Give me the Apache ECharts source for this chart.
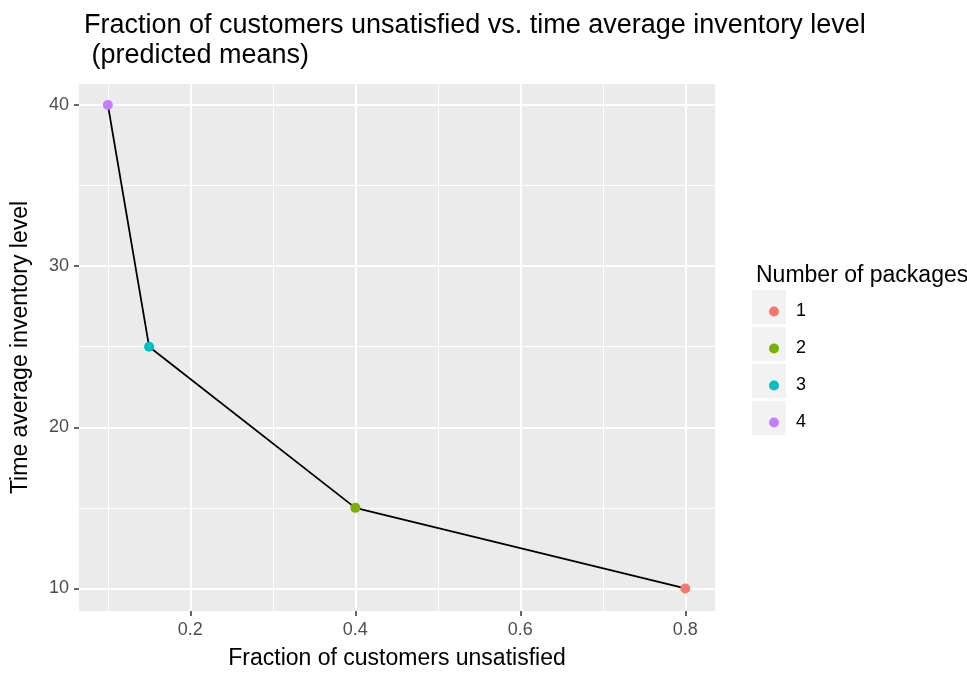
<!DOCTYPE html>
<html>
<head>
<meta charset="utf-8">
<script src="https://cdn.jsdelivr.net/npm/echarts@6/dist/echarts.min.js"></script>
<style>html,body{margin:0;padding:0;background:#fff}#c{width:967px;height:675px}</style>
</head>
<body>
<div id="c"></div>
<script>
const packages = ['1', '2', '3', '4'];
const fracUnsatisfied = [0.8, 0.4, 0.15, 0.1];
const avgInventory = [10, 15, 25, 40];
const xTicks = [0.2, 0.4, 0.6, 0.8];
const xMinor = [0.1, 0.3, 0.5, 0.7];
const yTicks = [10, 20, 30, 40];
const yMinor = [15, 25, 35];

const palette = ['#F8766D', '#7CAE00', '#00BFC4', '#C77CFF'];
const FONT = '"Liberation Sans", Arial, Helvetica, sans-serif';

const chart = echarts.init(document.getElementById('c'));

const points = packages.map((p, i) => [fracUnsatisfied[i], avgInventory[i]]);
const lineData = points.slice().sort((a, b) => a[0] - b[0]);

const xMajorLines = xTicks.map(v => ({ xAxis: v, lineStyle: { color: '#fff', width: 2, type: 'solid' } }));
const xMinorLines = xMinor.map(v => ({ xAxis: v, lineStyle: { color: '#fff', width: 1, type: 'solid' } }));
const yMajorLines = yTicks.map(v => ({ yAxis: v, lineStyle: { color: '#fff', width: 2, type: 'solid' } }));
const yMinorLines = yMinor.map(v => ({ yAxis: v, lineStyle: { color: '#fff', width: 1, type: 'solid' } }));

const series = [
  {
    name: 'grid', type: 'line', data: [], silent: true, z: 1,
    markLine: {
      z: 1, silent: true, symbol: ['none', 'none'], label: { show: false }, animation: false,
      data: [...xMinorLines, ...yMinorLines, ...xMajorLines, ...yMajorLines]
    }
  },
  {
    name: 'path', type: 'line', data: lineData, showSymbol: false, symbol: 'none',
    lineStyle: { color: '#000', width: 1.8 }, z: 3, silent: true
  }
];
packages.forEach((p, i) => {
  series.push({
    name: p, type: 'scatter', data: [points[i]], symbolSize: 10, z: 4,
    itemStyle: { color: palette[i], opacity: 1 }
  });
});

const legendRects = packages.map((p, i) => ({
  type: 'rect', left: 752, top: 290 + i * 37, z: -1,
  shape: { width: 34, height: 34 }, style: { fill: '#F2F2F2' }
}));

chart.setOption({
  animation: false,
  textStyle: { fontFamily: FONT },
  title: [
    {
      text: 'Fraction of customers unsatisfied vs. time average inventory level\n (predicted means)',
      left: 79, top: 6,
      textStyle: { fontFamily: FONT, fontSize: 27, fontWeight: 'normal', color: '#000', lineHeight: 30 }
    },
    {
      text: 'Number of packages', left: 751, top: 259,
      textStyle: { fontFamily: FONT, fontSize: 23, fontWeight: 'normal', color: '#000' }
    }
  ],
  legend: {
    data: packages, orient: 'vertical', left: 764, top: 288, icon: 'circle',
    itemWidth: 10, itemHeight: 10, itemGap: 0, selectedMode: false,
    textStyle: { fontFamily: FONT, fontSize: 18, color: '#000', lineHeight: 37, padding: [0, 0, 0, 12] }
  },
  graphic: legendRects,
  grid: {
    left: 79, right: 252, top: 84, bottom: 57, show: true,
    backgroundColor: '#EBEBEB', borderWidth: 0, containLabel: false
  },
  xAxis: {
    type: 'value', min: 0.065, max: 0.836,
    name: 'Fraction of customers unsatisfied', nameLocation: 'middle', nameGap: 36,
    nameTextStyle: { fontFamily: FONT, fontSize: 23, color: '#000' },
    axisLine: { show: false },
    axisTick: { show: true, customValues: xTicks, length: 5, lineStyle: { color: '#333', width: 1.5 } },
    axisLabel: { customValues: xTicks, fontFamily: FONT, fontSize: 18, color: '#4D4D4D', margin: 10,
      formatter: v => v.toFixed(1) },
    splitLine: { show: false }
  },
  yAxis: {
    type: 'value', min: 8.6, max: 41.3,
    name: 'Time average inventory level', nameLocation: 'middle', nameGap: 47, nameRotate: 90,
    nameTextStyle: { fontFamily: FONT, fontSize: 23, color: '#000' },
    axisLine: { show: false },
    axisTick: { show: true, customValues: yTicks, length: 5, lineStyle: { color: '#333', width: 1.5 } },
    axisLabel: { customValues: yTicks, fontFamily: FONT, fontSize: 18, color: '#4D4D4D', margin: 10 },
    splitLine: { show: false }
  },
  series: series
});
</script>
</body>
</html>
